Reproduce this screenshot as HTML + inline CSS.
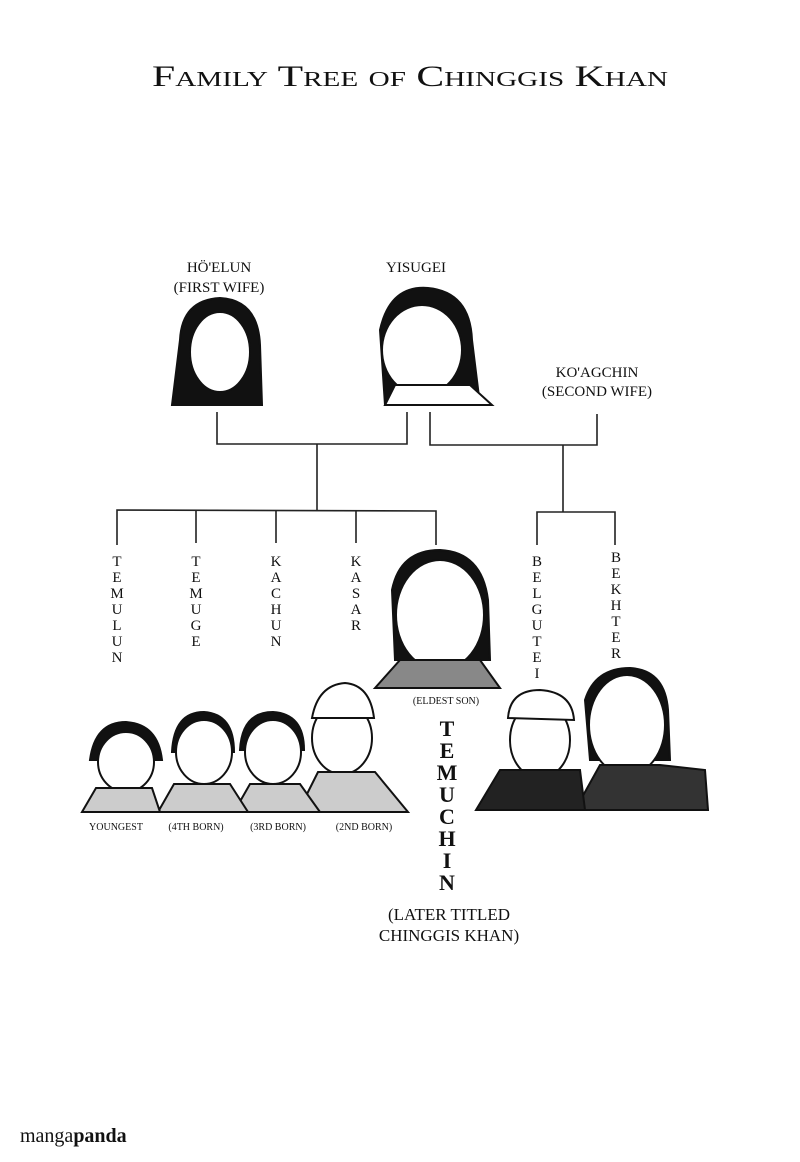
<!DOCTYPE html>
<html><head><meta charset="utf-8">
<style>
html,body{margin:0;padding:0;background:#fff;}
svg{display:block}
text{font-family:"Liberation Serif",serif;fill:#111;}
</style></head><body>
<svg width="800" height="1162" viewBox="0 0 800 1162" xmlns="http://www.w3.org/2000/svg">
<rect width="800" height="1162" fill="#fff"/>
<text x="152" y="86" font-size="30" style="font-variant:small-caps" textLength="516" lengthAdjust="spacingAndGlyphs">Family Tree of Chinggis Khan</text>

<g font-size="15" text-anchor="middle">
<text x="219" y="272">HÖ'ELUN</text>
<text x="219" y="292">(FIRST WIFE)</text>
<text x="416" y="272">YISUGEI</text>
<text x="597" y="377">KO'AGCHIN</text>
<text x="597" y="396">(SECOND WIFE)</text>
</g>

<g stroke="#222" stroke-width="1.6" fill="none">
<polyline points="217,412 217,444 407,444 407,412"/>
<polyline points="430,412 430,445 597,445 597,414"/>
<line x1="317" y1="444" x2="317" y2="510"/>
<polyline points="117,545 117,510 436,511 436,545"/>
<line x1="196" y1="510" x2="196" y2="543"/>
<line x1="276" y1="510" x2="276" y2="543"/>
<line x1="356" y1="511" x2="356" y2="543"/>
<line x1="563" y1="445" x2="563" y2="512"/>
<polyline points="537,545 537,512 615,512 615,545"/>
</g>

<g font-size="15" text-anchor="middle">
<text x="117" y="566">T</text><text x="117" y="582">E</text><text x="117" y="598">M</text><text x="117" y="614">U</text><text x="117" y="630">L</text><text x="117" y="646">U</text><text x="117" y="662">N</text>
<text x="196" y="566">T</text><text x="196" y="582">E</text><text x="196" y="598">M</text><text x="196" y="614">U</text><text x="196" y="630">G</text><text x="196" y="646">E</text>
<text x="276" y="566">K</text><text x="276" y="582">A</text><text x="276" y="598">C</text><text x="276" y="614">H</text><text x="276" y="630">U</text><text x="276" y="646">N</text>
<text x="356" y="566">K</text><text x="356" y="582">A</text><text x="356" y="598">S</text><text x="356" y="614">A</text><text x="356" y="630">R</text>
<text x="537" y="566">B</text><text x="537" y="582">E</text><text x="537" y="598">L</text><text x="537" y="614">G</text><text x="537" y="630">U</text><text x="537" y="646">T</text><text x="537" y="662">E</text><text x="537" y="678">I</text>
<text x="616" y="562">B</text><text x="616" y="578">E</text><text x="616" y="594">K</text><text x="616" y="610">H</text><text x="616" y="626">T</text><text x="616" y="642">E</text><text x="616" y="658">R</text>
</g>

<g font-size="22" text-anchor="middle" font-weight="bold">
<text x="447" y="736">T</text><text x="447" y="758">E</text><text x="447" y="780">M</text><text x="447" y="802">U</text><text x="447" y="824">C</text><text x="447" y="846">H</text><text x="447" y="868">I</text><text x="447" y="890">N</text>
</g>

<g font-size="10" text-anchor="middle">
<text x="446" y="704">(ELDEST SON)</text>
<text x="116" y="830">YOUNGEST</text>
<text x="196" y="830">(4TH BORN)</text>
<text x="278" y="830">(3RD BORN)</text>
<text x="364" y="830">(2ND BORN)</text>
</g>
<g font-size="17" text-anchor="middle">
<text x="449" y="920">(LATER TITLED</text>
<text x="449" y="941">CHINGGIS KHAN)</text>
</g>

<g stroke="#111" stroke-width="2" fill="#fff">
<path d="M180,340 Q182,300 220,298 Q258,300 260,345 L262,405 L172,405 Z" fill="#111"/>
<ellipse cx="220" cy="352" rx="30" ry="40"/>
<path d="M380,330 Q390,285 428,288 Q470,292 472,340 L480,405 L385,405 Z" fill="#111"/>
<ellipse cx="422" cy="350" rx="40" ry="45"/>
<path d="M385,405 L492,405 L470,385 L395,385 Z" fill="#fff"/>
<path d="M392,590 Q400,550 440,550 Q482,552 488,600 L490,660 L395,660 Z" fill="#111"/>
<ellipse cx="440" cy="615" rx="44" ry="55"/>
<path d="M375,688 L400,660 L480,660 L500,688 Z" fill="#888"/>
<path d="M585,700 Q595,668 630,668 Q665,670 668,710 L670,760 L590,760 Z" fill="#111"/>
<ellipse cx="627" cy="725" rx="38" ry="50"/>
<path d="M575,810 L600,765 L660,765 L705,770 L708,810 Z" fill="#333"/>
<ellipse cx="540" cy="740" rx="30" ry="38"/>
<path d="M508,718 Q510,690 540,690 Q572,692 574,720 Z" fill="#fff"/>
<path d="M476,810 L500,770 L580,770 L585,810 Z" fill="#222"/>
<ellipse cx="342" cy="738" rx="30" ry="36"/>
<path d="M312,718 Q318,685 345,683 Q370,685 374,718 Z" fill="#fff"/>
<path d="M298,812 L318,772 L375,772 L408,812 Z" fill="#ccc"/>
<path d="M240,750 Q242,712 273,712 Q304,714 304,750 Z" fill="#111"/>
<ellipse cx="273" cy="752" rx="28" ry="32"/>
<path d="M234,812 L250,784 L300,784 L320,812 Z" fill="#ccc"/>
<path d="M172,752 Q174,712 204,712 Q234,714 234,752 Z" fill="#111"/>
<ellipse cx="204" cy="752" rx="28" ry="32"/>
<path d="M158,812 L174,784 L230,784 L248,812 Z" fill="#ccc"/>
<path d="M90,760 Q95,722 126,722 Q158,724 162,760 Z" fill="#111"/>
<ellipse cx="126" cy="762" rx="28" ry="30"/>
<path d="M82,812 L96,788 L152,788 L160,812 Z" fill="#ccc"/>
</g>

<text x="20" y="1142" font-family="Liberation Sans,sans-serif" font-size="20" fill="#222">manga<tspan font-weight="bold">panda</tspan></text>
</svg>
</body></html>
